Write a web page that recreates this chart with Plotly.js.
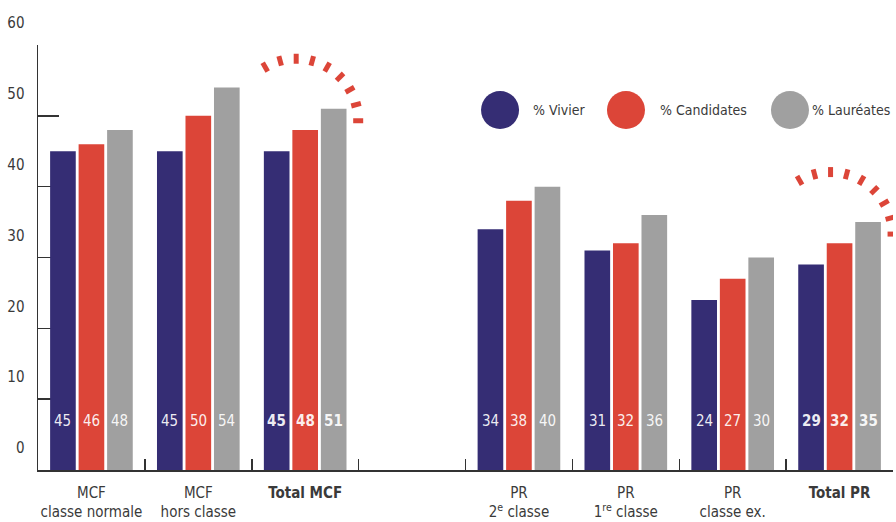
<!DOCTYPE html>
<html>
<head>
<meta charset="utf-8">
<script src="https://cdn.plot.ly/plotly-3.0.1.min.js"></script>
<style>html,body{margin:0;padding:0;background:#fff;}#chart{width:896px;height:522px;}
#chart svg text{font-stretch:condensed;}</style>
</head>
<body>
<div id="chart"></div>
<script>
var categories = ["MCF<br>classe normale", "MCF<br>hors classe", "<b>Total MCF</b>", " ",
                  "PR<br>2<sup>e</sup> classe", "PR<br>1<sup>re</sup> classe", "PR<br>classe ex.", "<b>Total PR</b>"];
var vivier     = [45, 45, 45, null, 34, 31, 24, 29];
var candidates = [46, 50, 48, null, 38, 32, 27, 32];
var laureates  = [48, 54, 51, null, 40, 36, 30, 35];
var boldCats   = [false, false, true, false, false, false, false, true];
var seriesNames = ["% Vivier", "% Candidates", "% Lauréates"];
var seriesColors = ["#352d74", "#dc4538", "#a0a0a0"];
var highlightCats = [2, 7];

var FONT = "'DejaVu Sans Condensed', 'DejaVu Sans', sans-serif";
var series = [vivier, candidates, laureates];

var traces = series.map(function(vals, i) {
  return {
    type: "bar", x: categories, y: vals, name: seriesNames[i],
    marker: {color: seriesColors[i]}, showlegend: false, hoverinfo: "skip"
  };
});

var annotations = [];
series.forEach(function(vals, i) {
  vals.forEach(function(v, j) {
    if (v === null) return;
    annotations.push({
      x: j, y: 0, xref: "x", yref: "y", yanchor: "middle", xanchor: "center",
      yshift: 49, xshift: (i - 1) * 28.5, showarrow: false,
      text: boldCats[j] ? "<b>" + v + "</b>" : String(v),
      font: {family: FONT, size: 15, color: "rgba(255,255,255,0.92)"}
    });
  });
});

// legend
var legX = [0.5404, 0.6877, 0.8795];
var legTextX = [0.5775, 0.7263, 0.9040];
var legY = 0.847;
var shapes = [];
seriesNames.forEach(function(n, i) {
  shapes.push({
    type: "circle", xref: "paper", yref: "paper", xsizemode: "pixel", ysizemode: "pixel",
    xanchor: legX[i], yanchor: legY, x0: -19, x1: 19, y0: -19, y1: 19,
    fillcolor: seriesColors[i], line: {width: 0}
  });
  annotations.push({
    x: legTextX[i], y: legY, xref: "paper", yref: "paper", xanchor: "left", yanchor: "middle",
    showarrow: false, text: n, borderpad: 0, font: {family: FONT, size: 14, color: "#3a3a3a"}
  });
});

// radial dashed arcs above totals
highlightCats.forEach(function(c) {
  for (var a = 0; a <= 120; a += 15) {
    var r = a * Math.PI / 180;
    var cx = -9, cy = -12, r0 = 57, r1 = 67;
    shapes.push({
      type: "line", xref: "x", yref: "y", xsizemode: "pixel", ysizemode: "pixel",
      xanchor: c, yanchor: laureates[c],
      x0: cx + r0 * Math.cos(r), x1: cx + r1 * Math.cos(r),
      y0: cy + r0 * Math.sin(r), y1: cy + r1 * Math.sin(r),
      line: {color: "#dc4538", width: 5}
    });
  }
});

var layout = {
  width: 896, height: 522,
  margin: {l: 38, r: 3, t: 45, b: 52},
  paper_bgcolor: "#fff", plot_bgcolor: "#fff",
  barmode: "group", bargap: 0.2, bargroupgap: 0.1,
  font: {family: FONT, size: 15, color: "#3a3a3a"},
  xaxis: {
    type: "category", range: [-0.5, 7.5], showgrid: false, zeroline: false,
    showline: true, linecolor: "#333", linewidth: 1.5,
    ticks: "inside", ticklen: 11, tickwidth: 1.5, tickcolor: "#333", tickson: "boundaries",
    tickangle: 0,
    tickfont: {family: FONT, size: 15, color: "#3a3a3a"}, ticklabelstandoff: 8,
    fixedrange: true
  },
  yaxis: {
    range: [0, 60], dtick: 10, tick0: 0, showgrid: false, zeroline: false,
    showline: true, linecolor: "#333", linewidth: 1.5,
    ticks: "inside", ticklen: 21, tickwidth: 1.5, tickcolor: "#333",
    layer: "below traces", ticklabelshift: -22, ticklabelstandoff: 9,
    tickfont: {family: FONT, size: 15, color: "#3a3a3a"}, fixedrange: true
  },
  annotations: annotations,
  shapes: shapes,
  showlegend: false
};

Plotly.newPlot("chart", traces, layout, {displayModeBar: false, staticPlot: true});
</script>
</body>
</html>
